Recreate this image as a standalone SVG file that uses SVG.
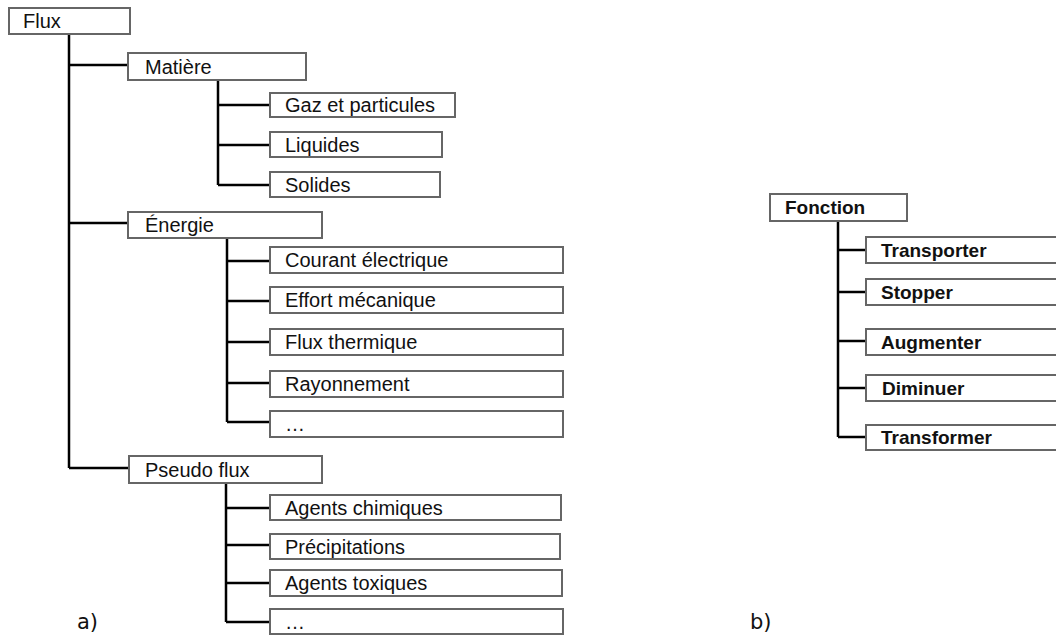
<svg xmlns="http://www.w3.org/2000/svg" width="1056" height="637" viewBox="0 0 1056 637">
<style>
.box{fill:#fff;stroke:#666;stroke-width:2}
.t{font-family:"Liberation Sans",Arial,sans-serif;font-size:20px;fill:#111}
.b{font-family:"Liberation Sans",Arial,sans-serif;font-size:19px;font-weight:bold;fill:#111}
.lbl{font-family:"DejaVu Sans",sans-serif;font-size:21px;fill:#111}
.c{stroke:#000;stroke-width:2.5;fill:none}
</style>
<rect width="1056" height="637" fill="#fff"/>
<g id="connectors">
<path class="c" d="M69,34V468M69,65H128M69,223H128M69,468H129"/>
<path class="c" d="M218,80V185M218,105H270M218,145H270M218,185H270"/>
<path class="c" d="M227,238V422M227,261H270M227,301H270M227,342H270M227,383H270M227,422H270"/>
<path class="c" d="M226,483V622M226,508H270M226,545H270M226,583H270M226,622H270"/>
<path class="c" d="M838,221V437M838,250H866M838,292H866M838,341H866M838,388H866M838,437H866"/>
</g>
<g id="n-flux"><rect class="box" x="9" y="8" width="121" height="26"/><text class="t" x="23" y="28">Flux</text></g>
<g id="n-matiere"><rect class="box" x="128" y="53" width="178" height="27"/><text class="t" x="145" y="74">Matière</text></g>
<g id="n-gaz"><rect class="box" x="270" y="93" width="185" height="24"/><text class="t" x="285" y="112">Gaz et particules</text></g>
<g id="n-liquides"><rect class="box" x="270" y="132" width="172" height="25"/><text class="t" x="285" y="152">Liquides</text></g>
<g id="n-solides"><rect class="box" x="270" y="172" width="170" height="25"/><text class="t" x="285" y="192">Solides</text></g>
<g id="n-energie"><rect class="box" x="128" y="212" width="194" height="26"/><text class="t" x="145" y="232">Énergie</text></g>
<g id="n-courant"><rect class="box" x="270" y="247" width="293" height="26"/><text class="t" x="285" y="267">Courant électrique</text></g>
<g id="n-effort"><rect class="box" x="270" y="287" width="293" height="26"/><text class="t" x="285" y="307">Effort mécanique</text></g>
<g id="n-thermique"><rect class="box" x="270" y="329" width="293" height="26"/><text class="t" x="285" y="349">Flux thermique</text></g>
<g id="n-rayonnement"><rect class="box" x="270" y="371" width="293" height="26"/><text class="t" x="285" y="391">Rayonnement</text></g>
<g id="n-energie-etc"><rect class="box" x="270" y="411" width="293" height="26"/><text class="t" x="285" y="431">…</text></g>
<g id="n-pseudo"><rect class="box" x="129" y="456" width="193" height="27"/><text class="t" x="145" y="477">Pseudo flux</text></g>
<g id="n-chimiques"><rect class="box" x="270" y="495" width="291" height="25"/><text class="t" x="285" y="515">Agents chimiques</text></g>
<g id="n-precip"><rect class="box" x="270" y="534" width="290" height="25"/><text class="t" x="285" y="554">Précipitations</text></g>
<g id="n-toxiques"><rect class="box" x="270" y="570" width="292" height="26"/><text class="t" x="285" y="590">Agents toxiques</text></g>
<g id="n-pseudo-etc"><rect class="box" x="270" y="609" width="293" height="25"/><text class="t" x="285" y="629">…</text></g>
<g id="n-fonction"><rect class="box" x="770" y="194" width="137" height="27"/><text class="b" x="785" y="214">Fonction</text></g>
<g id="n-transporter"><rect class="box" x="866" y="237" width="200" height="26"/><text class="b" x="881" y="257">Transporter</text></g>
<g id="n-stopper"><rect class="box" x="866" y="279" width="200" height="26"/><text class="b" x="881" y="299">Stopper</text></g>
<g id="n-augmenter"><rect class="box" x="866" y="329" width="200" height="26"/><text class="b" x="881" y="349">Augmenter</text></g>
<g id="n-diminuer"><rect class="box" x="866" y="375" width="200" height="26"/><text class="b" x="882" y="395">Diminuer</text></g>
<g id="n-transformer"><rect class="box" x="866" y="425" width="200" height="25"/><text class="b" x="881" y="444">Transformer</text></g>
<text class="lbl" x="77" y="629">a)</text>
<text class="lbl" x="750" y="629">b)</text>
</svg>
